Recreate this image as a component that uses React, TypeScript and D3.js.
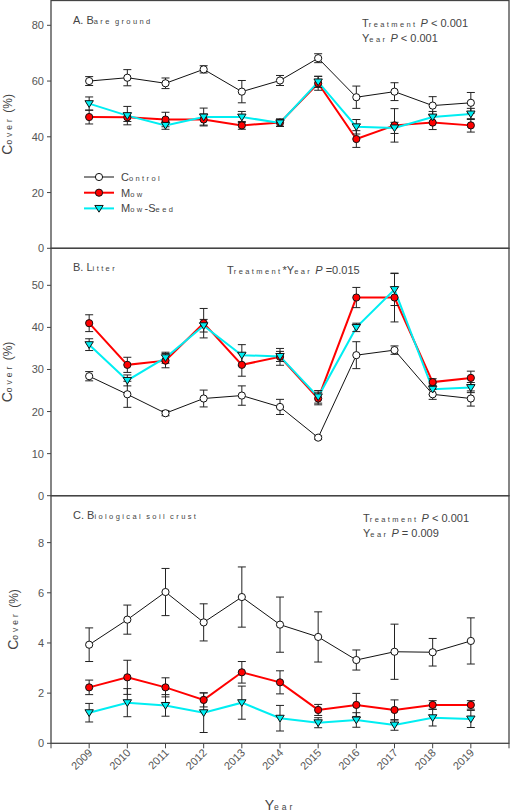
import React from "react";
import * as d3 from "d3";

const years = [2009, 2010, 2011, 2012, 2013, 2014, 2015, 2016, 2017, 2018, 2019];
const yearTicks = [2008, 2009, 2010, 2011, 2012, 2013, 2014, 2015, 2016, 2017, 2018, 2019, 2020];

// Panel A: Bare ground
const bareControl = [60, 61.2, 59.2, 64.2, 56.2, 60.2, 68.2, 54.2, 56.2, 51.2, 52.2];
const bareControlSE = [1.6, 2.9, 1.9, 1.3, 4, 1.8, 1.6, 4, 3.2, 3.2, 3.7];
const bareMow = [47.1, 47, 46.2, 46.2, 44.1, 45.1, 59.2, 39.2, 44.1, 45.1, 44.1];
const bareMowSE = [2.5, 1.5, 2.6, 2, 1.4, 1.3, 2.5, 3, 6, 2.5, 2.4];
const bareSeed = [51.9, 47.6, 44.1, 47.1, 47.1, 45, 59.7, 43.6, 43.2, 47.1, 48.2];
const bareSeedSE = [2.4, 3.3, 1.4, 3.2, 2, 1.3, 2, 2.6, 2, 2, 2];

// Panel B: Litter
const litControl = [28.4, 24.1, 19.6, 23.1, 23.8, 21.1, 13.8, 33.4, 34.6, 24.1, 23.1];
const litControlSE = [1.1, 3.1, 0.6, 2, 2.3, 1.8, 0.4, 3.2, 1, 1.2, 1.8];
const litMow = [41, 31.1, 32.1, 41, 31.1, 33, 23.1, 47.1, 47.1, 27, 28];
const litMowSE = [2, 1.8, 1.7, 3.5, 2.7, 2, 1.5, 2.4, 5.8, 0.8, 1.6];
const litSeed = [35.9, 27.4, 32.8, 40.4, 33.4, 33.1, 23.5, 40, 49, 25.3, 25.7];
const litSeedSE = [1.4, 1.3, 1.3, 1.5, 2.5, 1.2, 1.5, 1, 3.8, 1.3, 1.2];

// Panel C: Biological soil crust
const bscControl = [3.93, 4.93, 6.03, 4.82, 5.83, 4.73, 4.24, 3.32, 3.65, 3.63, 4.08];
const bscControlSE = [0.67, 0.58, 0.94, 0.74, 1.2, 1.1, 1, 0.4, 1.1, 0.55, 0.92];
const bscMow = [2.23, 2.63, 2.23, 1.73, 2.83, 2.43, 1.33, 1.53, 1.33, 1.53, 1.53];
const bscMowSE = [0.29, 0.68, 0.38, 0.28, 0.43, 0.46, 0.22, 0.46, 0.4, 0.17, 0.17];
const bscSeed = [1.22, 1.62, 1.51, 1.22, 1.62, 1.0, 0.82, 0.93, 0.73, 1.02, 0.97];
const bscSeedSE = [0.37, 0.56, 0.43, 0.79, 0.66, 0.51, 0.2, 0.29, 0.21, 0.33, 0.34];

const seriesNames = ["Control", "Mow", "Mow-Seed"];
const ticksA = [0, 20, 40, 60, 80];
const ticksB = [0, 10, 20, 30, 40, 50];
const ticksC = [0, 2, 4, 6, 8];

const FONT = "'Liberation Sans', Arial, sans-serif";
const TEXT = "#444";

const styles = [
  { line: "#111", lw: 1, fill: "#fff", marker: "circle" },
  { line: "#ff0000", lw: 2, fill: "#ff0000", marker: "circle" },
  { line: "#00eef2", lw: 2, fill: "#00eef2", marker: "tri" },
];

const x = d3.scaleLinear().domain([2008, 2020]).range([51, 509]);

// text with SigmaPlot-like reduced lowercase; |..| marks italic
function Rich({ text, xPos, yPos, anchor = "start", transform, big = 11, small = 7.5, spacing = 2.4, cap }: any) {
  const parts: any[] = [];
  text.split("|").forEach((seg: string, i: number) => {
    if (i % 2 === 1) {
      parts.push({ t: seg, small: false, italic: true });
    } else {
      seg.split(/([a-z]+)/).forEach((s) => {
        if (!s) return;
        parts.push({ t: s, small: /^[a-z]+$/.test(s), italic: false });
      });
    }
  });
  return (
    <text x={xPos} y={yPos} textAnchor={anchor} transform={transform} fontFamily={FONT} fill={TEXT} style={{ whiteSpace: "pre" }}>
      {parts.map((p, i) => (
        <tspan
          key={i}
          fontSize={p.small ? small : i === 0 && cap ? cap : big}
          letterSpacing={p.small ? spacing : 0}
          fontStyle={p.italic ? "italic" : "normal"}
        >
          {p.t}
        </tspan>
      ))}
    </text>
  );
}

function Marker({ kind, cx, cy, fill }: any) {
  if (kind === "circle") {
    return <circle cx={cx} cy={cy} r={3.6} fill={fill} stroke="#111" strokeWidth={1} />;
  }
  const s = 4.2;
  const p = `M${cx - s},${cy - s * 0.7} L${cx + s},${cy - s * 0.7} L${cx},${cy + s * 0.9} Z`;
  return <path d={p} fill={fill} stroke="#111" strokeWidth={1} />;
}

function Panel({ top, bottom, max, ticks, data, ses, title, stats, statsX, statsY, legend, xAxis, labelX }: any) {
  const y = d3.scaleLinear().domain([0, max]).range([bottom, top]);
  const line = d3
    .line<number>()
    .x((_, i) => x(years[i]))
    .y((v) => y(v));
  const cap = 4;
  return (
    <g>
      <rect x={x(2008)} y={top} width={x(2020) - x(2008)} height={bottom - top} fill="none" stroke="#444" strokeWidth={1.3} />
      {ticks.map((t: number) => (
        <g key={t}>
          <line x1={x(2008) - 4} x2={x(2008)} y1={y(t)} y2={y(t)} stroke="#444" strokeWidth={1} />
          <text x={x(2008) - 7} y={y(t) + 4} textAnchor="end" fontFamily={FONT} fontSize={11} fill="#555">
            {t}
          </text>
        </g>
      ))}
      {data.map((vals: number[], si: number) => (
        <path key={"l" + si} d={line(vals) || ""} fill="none" stroke={styles[si].line} strokeWidth={styles[si].lw} />
      ))}
      {data.map((vals: number[], si: number) => (
        <g key={"e" + si}>
          {vals.map((v, i) => {
            const cx = x(years[i]);
            const y1 = y(v - ses[si][i]);
            const y2 = y(v + ses[si][i]);
            return (
              <g key={i} stroke="#222" strokeWidth={1}>
                <line x1={cx} x2={cx} y1={y1} y2={y2} />
                <line x1={cx - cap} x2={cx + cap} y1={y1} y2={y1} />
                <line x1={cx - cap} x2={cx + cap} y1={y2} y2={y2} />
              </g>
            );
          })}
        </g>
      ))}
      {data.map((vals: number[], si: number) => (
        <g key={"m" + si}>
          {vals.map((v, i) => (
            <Marker key={i} kind={styles[si].marker} cx={x(years[i])} cy={y(v)} fill={styles[si].fill} />
          ))}
        </g>
      ))}
      <Rich text={title} xPos={73} yPos={top + 23} />
      {stats.map((s: string, i: number) => (
        <Rich key={i} text={s} xPos={statsX} yPos={top + statsY + i * 15} />
      ))}
      <Rich
        text="Cover (%)"
        xPos={0}
        yPos={0}
        anchor="middle"
        big={12}
        cap={14}
        small={8.5}
        spacing={3}
        transform={`translate(${labelX},${(top + bottom) / 2}) rotate(-90)`}
      />
      {legend &&
        seriesNames.map((n, i) => {
          const ly = 177 + i * 15.7;
          return (
            <g key={n}>
              <line x1={84} x2={114} y1={ly} y2={ly} stroke={styles[i].line} strokeWidth={styles[i].lw} />
              <Marker kind={styles[i].marker} cx={99} cy={ly} fill={styles[i].fill} />
              <Rich text={n} xPos={121} yPos={ly + 4} />
            </g>
          );
        })}
      {xAxis && (
        <g>
          {yearTicks.map((t) => (
            <line key={t} x1={x(t)} x2={x(t)} y1={bottom} y2={bottom + 5} stroke="#444" strokeWidth={1} />
          ))}
          {years.map((t) => (
            <text
              key={t}
              transform={`translate(${x(t) + 4},${bottom + 10}) rotate(-45)`}
              textAnchor="end"
              fontFamily={FONT}
              fontSize={11}
              fill="#555"
            >
              {t}
            </text>
          ))}
          <Rich text="Year" xPos={x(2014)} yPos={810} anchor="middle" big={12} cap={14} small={8.5} spacing={3} />
        </g>
      )}
    </g>
  );
}

export default function App() {
  return (
    <svg width={510} height={812} style={{ position: "absolute", left: 0, top: 0, background: "#fff" }}>
      <Panel
        top={0.5}
        bottom={248.3}
        max={88.9}
        ticks={ticksA}
        data={[bareControl, bareMow, bareSeed]}
        ses={[bareControlSE, bareMowSE, bareSeedSE]}
        title="A. Bare ground"
        stats={["Treatment |P| < 0.001", "Year |P| < 0.001"]}
        statsX={362}
        statsY={26}
        legend
        labelX={12}
      />
      <Panel
        top={248.3}
        bottom={495.7}
        max={58.8}
        ticks={ticksB}
        data={[litControl, litMow, litSeed]}
        ses={[litControlSE, litMowSE, litSeedSE]}
        title="B. Litter"
        stats={["Treatment*Year |P| =0.015"]}
        statsX={227}
        statsY={26}
        labelX={12}
      />
      <Panel
        top={495.7}
        bottom={743.3}
        max={9.87}
        ticks={ticksC}
        data={[bscControl, bscMow, bscSeed]}
        ses={[bscControlSE, bscMowSE, bscSeedSE]}
        title="C. Biological soil crust"
        stats={["Treatment |P| < 0.001", "Year |P| = 0.009"]}
        statsX={363}
        statsY={26}
        labelX={18}
        xAxis
      />
    </svg>
  );
}
